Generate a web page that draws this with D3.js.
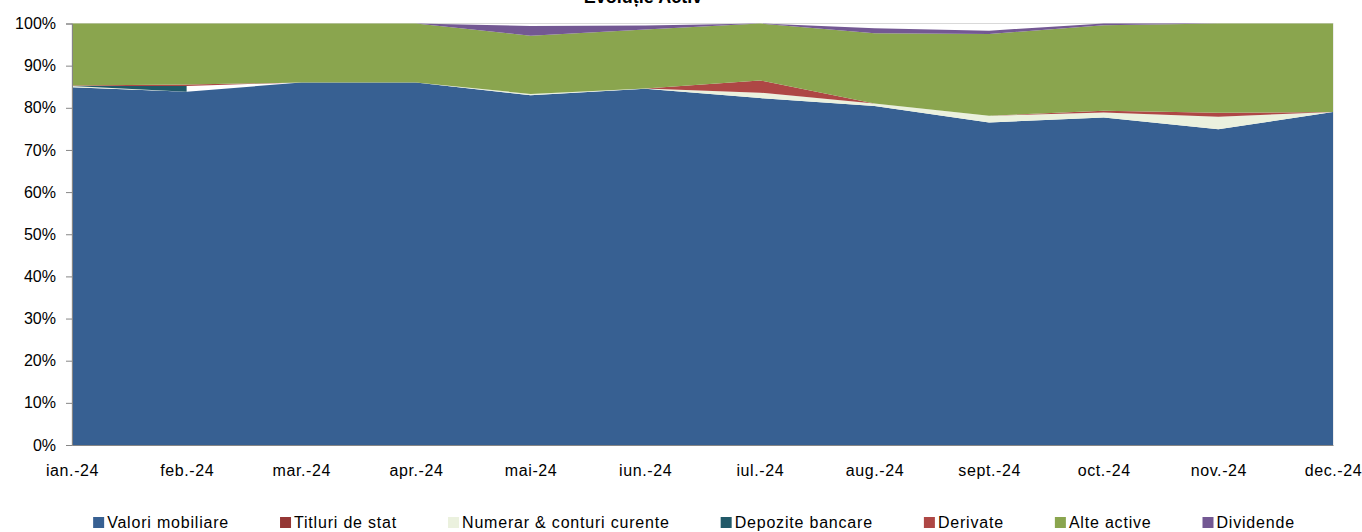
<!DOCTYPE html>
<html>
<head>
<meta charset="utf-8">
<script src="https://cdn.jsdelivr.net/npm/d3@7"></script>
<style>
  body { margin: 0; background: #fff; }
  text { font-family: "Liberation Sans", Arial, sans-serif; }
</style>
</head>
<body>
<svg id="chart" width="1362" height="532"></svg>
<script>
// luni si structura activului (% din total)
const months = ['ian.-24', 'feb.-24', 'mar.-24', 'apr.-24', 'mai-24', 'iun.-24',
  'iul.-24', 'aug.-24', 'sept.-24', 'oct.-24', 'nov.-24', 'dec.-24']

const valoriMobiliare = [84.9, 83.8, 86.0, 86.0, 83.0, 84.5, 82.3, 80.4, 76.5, 77.7, 74.9, 79.0]
const titluriDeStat   = [0, 0, 0, 0, 0, 0, 0, 0, 0, 0, 0, 0]
const numerar         = [0.3, 0, 0, 0, 0.3, 0.1, 1.3, 0.6, 1.6, 1.2, 3.0, 0]
const depozite        = [0, 1.4, null, null, null, null, null, null, null, null, null, null]
const derivate        = [0.1, 0.3, 0, 0, 0, 0, 2.9, 0, 0, 0.4, 0.9, 0]
const alteActive      = [14.7, 14.5, 14.0, 14.0, 13.8, 14.0, 13.5, 16.7, 19.4, 20.3, 21.2, 21.0]
const dividende       = [0, 0, 0, 0, 2.3, 0.9, 0, 1.2, 0.8, 0.4, 0, 0]

const yTicks = [0, 10, 20, 30, 40, 50, 60, 70, 80, 90, 100]

const series = [
  {key: 'valori', name: 'Valori mobiliare', values: valoriMobiliare, color: '#376092'},
  {key: 'titluri', name: 'Titluri de stat', values: titluriDeStat, color: '#953735'},
  {key: 'numerar', name: 'Numerar & conturi curente', values: numerar, color: '#EBF1DE'},
  {key: 'depozite', name: 'Depozite bancare', values: depozite, color: '#215968'},
  {key: 'derivate', name: 'Derivate', values: derivate, color: '#AE4745'},
  {key: 'alte', name: 'Alte active', values: alteActive, color: '#8AA54E'},
  {key: 'dividende', name: 'Dividende', values: dividende, color: '#735893'}
]

const rows = months.map((m, i) => {
  const row = {month: m}
  series.forEach(s => { row[s.key] = s.values[i] })
  return row
})

const svg = d3.select('#chart')
const margin = {left: 72, right: 29, top: 23.5, bottom: 87}
const width = 1362, height = 532

const x = d3.scalePoint()
  .domain(months)
  .range([margin.left, width - margin.right])

const y = d3.scaleLinear()
  .domain([0, 100])
  .range([height - margin.bottom, margin.top])

const stack = d3.stack()
  .keys(series.map(s => s.key))
  .value((d, k) => d[k] == null ? 0 : d[k])

const layers = stack(rows)

// titlu (taiat in partea de sus, ca in original)
svg.append('text')
  .attr('x', 643)
  .attr('y', 3)
  .attr('text-anchor', 'middle')
  .style('font-size', '18px')
  .style('font-weight', 'bold')
  .text('Evoluție Activ')

// chenar zona grafic
svg.append('rect')
  .attr('x', margin.left)
  .attr('y', margin.top)
  .attr('width', width - margin.right - margin.left)
  .attr('height', height - margin.bottom - margin.top)
  .attr('fill', 'none')
  .attr('stroke', '#D9D9D9')

layers.forEach((layer, i) => {
  const s = series[i]
  const area = d3.area()
    .x(d => x(d.data.month))
    .y0(d => y(d[0]))
    .y1(d => y(d[1]))
    .defined(d => d.data[s.key] != null)

  svg.append('path')
    .datum(layer)
    .attr('class', 'layer')
    .attr('fill', s.color)
    .attr('d', area)
})

// axa Y
const yAxis = svg.append('g')
  .attr('transform', `translate(${margin.left},0)`)
  .call(d3.axisLeft(y)
    .tickValues(yTicks)
    .tickFormat(d => d + '%')
    .tickSize(6)
    .tickPadding(10))

yAxis.select('.domain').attr('stroke', '#868686')
yAxis.selectAll('.tick line').attr('stroke', '#868686')
yAxis.selectAll('.tick text')
  .attr('fill', '#000')
  .style('font-size', '16px')
  .style('font-family', '"Liberation Sans", Arial, sans-serif')

// axa X
const xAxis = svg.append('g')
  .attr('transform', `translate(0,${height - margin.bottom})`)
  .call(d3.axisBottom(x).tickSize(0).tickPadding(20))

xAxis.select('.domain').attr('stroke', '#868686')
xAxis.selectAll('.tick text')
  .attr('fill', '#000')
  .style('font-size', '16px')
  .style('letter-spacing', '0.6px')
  .style('font-family', '"Liberation Sans", Arial, sans-serif')

// legenda
const legend = svg.append('g').attr('class', 'legend')
let lx = 0
series.forEach(s => {
  const item = legend.append('g').attr('transform', `translate(${lx},0)`)
  item.append('rect')
    .attr('x', 0)
    .attr('y', -11)
    .attr('width', 11)
    .attr('height', 11)
    .attr('fill', s.color)
  const t = item.append('text')
    .attr('x', 14)
    .attr('y', 0)
    .style('font-size', '16px')
    .style('letter-spacing', '0.8px')
    .text(s.name)
  lx += 14 + t.node().getComputedTextLength() + 51
})
const legendWidth = lx - 51
legend.attr('transform', `translate(${694 - legendWidth / 2},528)`)
</script>
</body>
</html>
